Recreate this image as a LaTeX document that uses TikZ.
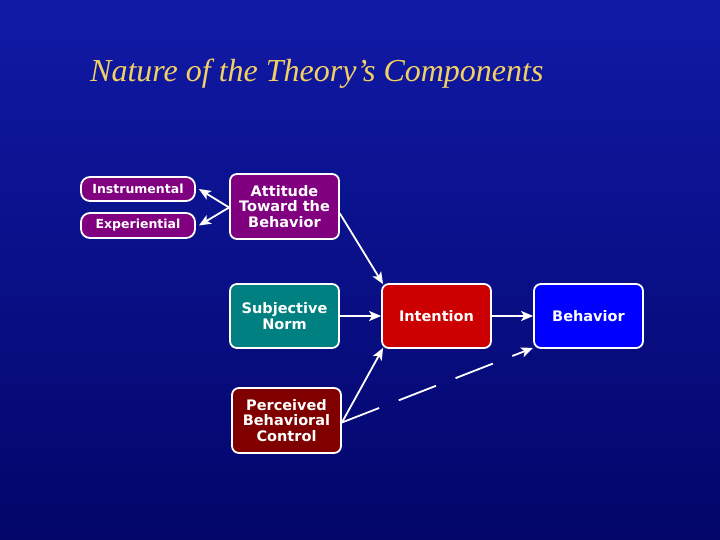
\documentclass[tikz,border=0pt]{standalone}
\usepackage{fontspec}
\setmainfont{Liberation Serif}
\newfontfamily\boxfont{DejaVu Sans}
\usetikzlibrary{arrows.meta}
\definecolor{bgtop}{RGB}{16,26,165}
\definecolor{bgbot}{RGB}{3,5,105}
\definecolor{titlegold}{RGB}{242,208,100}
\definecolor{purp}{RGB}{128,0,128}
\definecolor{tealc}{RGB}{0,128,128}
\definecolor{redc}{RGB}{204,0,0}
\definecolor{bluec}{RGB}{0,0,255}
\definecolor{maroon}{RGB}{128,0,0}
\begin{document}
\begin{tikzpicture}[x=1pt,y=-1pt,
  box/.style={draw=white, line width=1.8pt, rounded corners=7pt, text=white,
    font=\boxfont\bfseries\fontsize{14.5}{15.5}\selectfont, align=center, inner sep=0pt},
  smallbox/.style={box, rounded corners=9pt, font=\boxfont\bfseries\fontsize{12.5}{15}\selectfont},
  arr/.style={draw=white, line width=1.8pt, -{Stealth[length=12pt,width=10pt,inset=3pt]}}]
\useasboundingbox (0,0) rectangle (720,540);
\shade[top color=bgtop, bottom color=bgbot] (0,0) rectangle (720,540);
\node[anchor=base west, text=titlegold, font=\itshape\fontsize{32}{34}\selectfont, inner sep=0pt] (title) at (90,82) {Nature of the Theory’s Components};
\node[smallbox, fill=purp, minimum width=114pt, minimum height=24pt] (ins) at (138,189) {Instrumental};
\node[smallbox, fill=purp, minimum width=114pt, minimum height=25pt] (exp) at (138,225.5) {Experiential};
\node[box, fill=purp, minimum width=109pt, minimum height=65pt] (att) at (284.5,206.5) {Attitude\\Toward the\\Behavior};
\node[box, fill=tealc, minimum width=109pt, minimum height=64pt] (sn) at (284.5,316) {Subjective\\Norm};
\node[box, fill=redc, minimum width=109pt, minimum height=64pt] (int) at (436.5,316) {Intention};
\node[box, fill=bluec, minimum width=109pt, minimum height=64pt] (beh) at (588.5,316) {Behavior};
\node[box, fill=maroon, minimum width=109pt, minimum height=65pt] (pbc) at (286.5,420.5) {Perceived\\Behavioral\\Control};
\coordinate (attL) at ([yshift=-1pt]att.west);
\draw[arr] (attL) -- ([xshift=3pt]ins.east);
\draw[arr] (attL) -- ([xshift=3pt]exp.east);
\draw[arr] ([yshift=-7pt]att.east) -- ([xshift=2pt,yshift=-1pt]int.north west);
\draw[arr] (sn.east) -- (int.west);
\draw[arr] (int.east) -- (beh.west);
\coordinate (pbcR) at ([yshift=-2pt]pbc.east);
\draw[arr] (pbcR) -- ([xshift=2pt,yshift=1pt]int.south west);
\draw[arr, dash pattern=on 40pt off 21pt] (pbcR) -- ([yshift=1pt]beh.south west);
\end{tikzpicture}
\end{document}
